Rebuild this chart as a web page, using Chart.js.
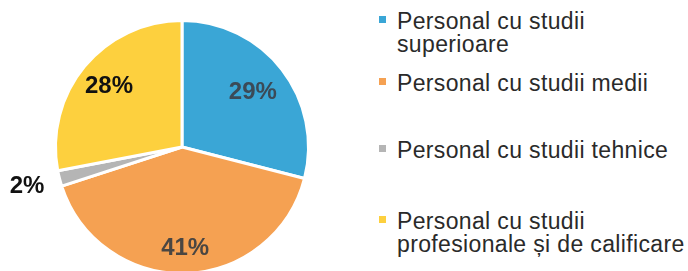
<!DOCTYPE html>
<html>
<head>
<meta charset="utf-8">
<script src="https://cdn.jsdelivr.net/npm/chart.js@4"></script>
<style>
  html,body{margin:0;padding:0;background:#fff;overflow:hidden;}
  #wrap{position:relative;width:688px;height:271px;overflow:hidden;}
  #pieBox{position:absolute;left:0;top:0;width:364px;height:294px;}
  #legend{position:absolute;left:379px;top:0;font-family:"Liberation Sans",Arial,sans-serif;font-size:23px;letter-spacing:0.35px;color:#2a2a2a;}
  .item{position:absolute;left:0;white-space:nowrap;line-height:23px;}
  .item .sw{position:absolute;left:0;top:6px;width:7px;height:7px;}
  .item .tx{position:absolute;left:18px;top:0;}
</style>
</head>
<body>
<div id="wrap">
  <div id="pieBox"><canvas id="pie" width="364" height="294"></canvas></div>
  <div id="legend"></div>
</div>
<script>
// Pie: share of staff by level of studies
const categories = [
  'Personal cu studii superioare',
  'Personal cu studii medii',
  'Personal cu studii tehnice',
  'Personal cu studii profesionale și de calificare'
];
const legendLines = [
  ['Personal cu studii', 'superioare'],
  ['Personal cu studii medii'],
  ['Personal cu studii tehnice'],
  ['Personal cu studii', 'profesionale și de calificare']
];
const values = [29, 41, 2, 28];
const colors = ['#3aa6d6', '#f5a152', '#b5b5b5', '#fdd03e'];
const labelColors = ['#3b4a57', '#4a4642', '#111', '#111'];
// how far out each % label sits (fraction of radius)
const labelRadius = [0.70, 0.79, 1.25, 0.74];

// legend (html, so the text stays real text)
const legendTops = [10, 72, 139, 210];
const legendEl = document.getElementById('legend');
legendLines.forEach((lines, i) => {
  const it = document.createElement('div');
  it.className = 'item';
  it.style.top = legendTops[i] + 'px';
  it.innerHTML = '<span class="sw" style="background:' + colors[i] + '"></span>' +
    '<span class="tx">' + lines.join('<br>') + '</span>';
  legendEl.appendChild(it);
});

// percent labels, drawn at the slice's own angle
const pctLabels = {
  id: 'pctLabels',
  afterDatasetsDraw(chart){
    const c = chart.ctx;
    const meta = chart.getDatasetMeta(0);
    c.save();
    c.font = 'bold 24px "Liberation Sans", Arial, sans-serif';
    c.textAlign = 'center';
    c.textBaseline = 'middle';
    meta.data.forEach((arc, i) => {
      const mid = (arc.startAngle + arc.endAngle) / 2;
      const r = 128 * labelRadius[i];
      const x = arc.x + Math.cos(mid) * r;
      const y = arc.y + Math.sin(mid) * r;
      c.fillStyle = labelColors[i];
      c.fillText(values[i] + '%', x, y);
    });
    c.restore();
  }
};

new Chart(document.getElementById('pie'), {
  type: 'pie',
  data: {
    labels: categories,
    datasets: [{
      data: values,
      backgroundColor: colors,
      borderColor: '#fff',
      borderWidth: 3
    }]
  },
  options: {
    responsive: false,
    animation: false,
    layout: { padding: 19 },
    plugins: { legend: { display: false }, tooltip: { enabled: false } }
  },
  plugins: [pctLabels]
});
</script>
</body>
</html>
